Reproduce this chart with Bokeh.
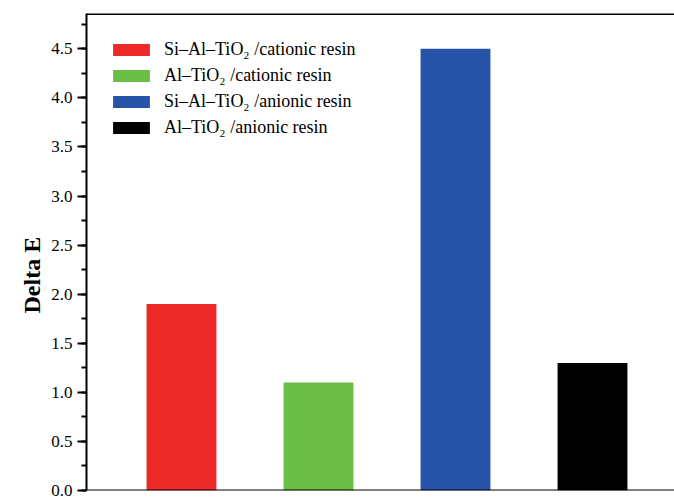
from bokeh.plotting import figure
from bokeh.models import ColumnDataSource, Range1d, Span, FixedTicker, NumeralTickFormatter, Title
from bokeh.embed import file_html
from bokeh.resources import INLINE

labels = ["Si–Al–TiO₂ /cationic resin", "Al–TiO₂ /cationic resin",
          "Si–Al–TiO₂ /anionic resin", "Al–TiO₂ /anionic resin"]
values = [1.9, 1.1, 4.5, 1.3]
colors = ["#EE2A29", "#6ABD45", "#2754A8", "#000000"]
yticks = [0.0, 0.5, 1.0, 1.5, 2.0, 2.5, 3.0, 3.5, 4.0, 4.5]

positions = list(range(1, len(values) + 1))
src = ColumnDataSource(dict(x=positions, top=values, color=colors, label=labels))

YMAX = 4.86
p = figure(width=674, height=501, output_backend="svg", toolbar_location=None,
           x_range=Range1d(0.3066, 4.5985), y_range=Range1d(0, YMAX),
           min_border_left=86, min_border_right=0, min_border_top=13, min_border_bottom=11)
p.vbar(x="x", top="top", width=0.51, color="color", line_color=None,
       legend_field="label", source=src)

p.xaxis.visible = False
p.xgrid.visible = False
p.ygrid.visible = False
p.outline_line_color = None
p.background_fill_color = "white"

ya = p.yaxis[0]
ya.ticker = FixedTicker(ticks=yticks, minor_ticks=[i * 0.25 for i in range(20)])
ya.formatter = NumeralTickFormatter(format="0.0")
ya.axis_line_width = 2
ya.axis_line_color = "black"
ya.major_tick_line_width = 2
ya.minor_tick_line_width = 2
ya.major_tick_out = 9
ya.major_tick_in = 0
ya.minor_tick_out = 5
ya.minor_tick_in = 0
ya.major_label_text_font = "Liberation Serif"
ya.major_label_text_font_size = "17px"
ya.major_label_text_color = "black"
ya.major_label_standoff = 5

ylab = Title(text="Delta E", align="left", offset=177, text_font="Liberation Serif",
             text_font_style="bold", text_font_size="24px", text_color="black", standoff=7)
p.add_layout(ylab, "left")

p.add_layout(Span(location=0, dimension="width", line_color="black", line_width=2))
p.add_layout(Span(location=YMAX, dimension="width", line_color="black", line_width=3))

lg = p.legend[0]
lg.location = (22, 352)
lg.margin = 0
lg.padding = 0
lg.border_line_color = None
lg.background_fill_alpha = 0
lg.label_text_font = "Liberation Serif"
lg.label_text_font_size = "18px"
lg.label_text_color = "black"
lg.glyph_width = 46
lg.glyph_height = 15
lg.label_height = 20
lg.spacing = 5
lg.label_standoff = 10

open("out.html", "w").write(file_html(p, INLINE))
